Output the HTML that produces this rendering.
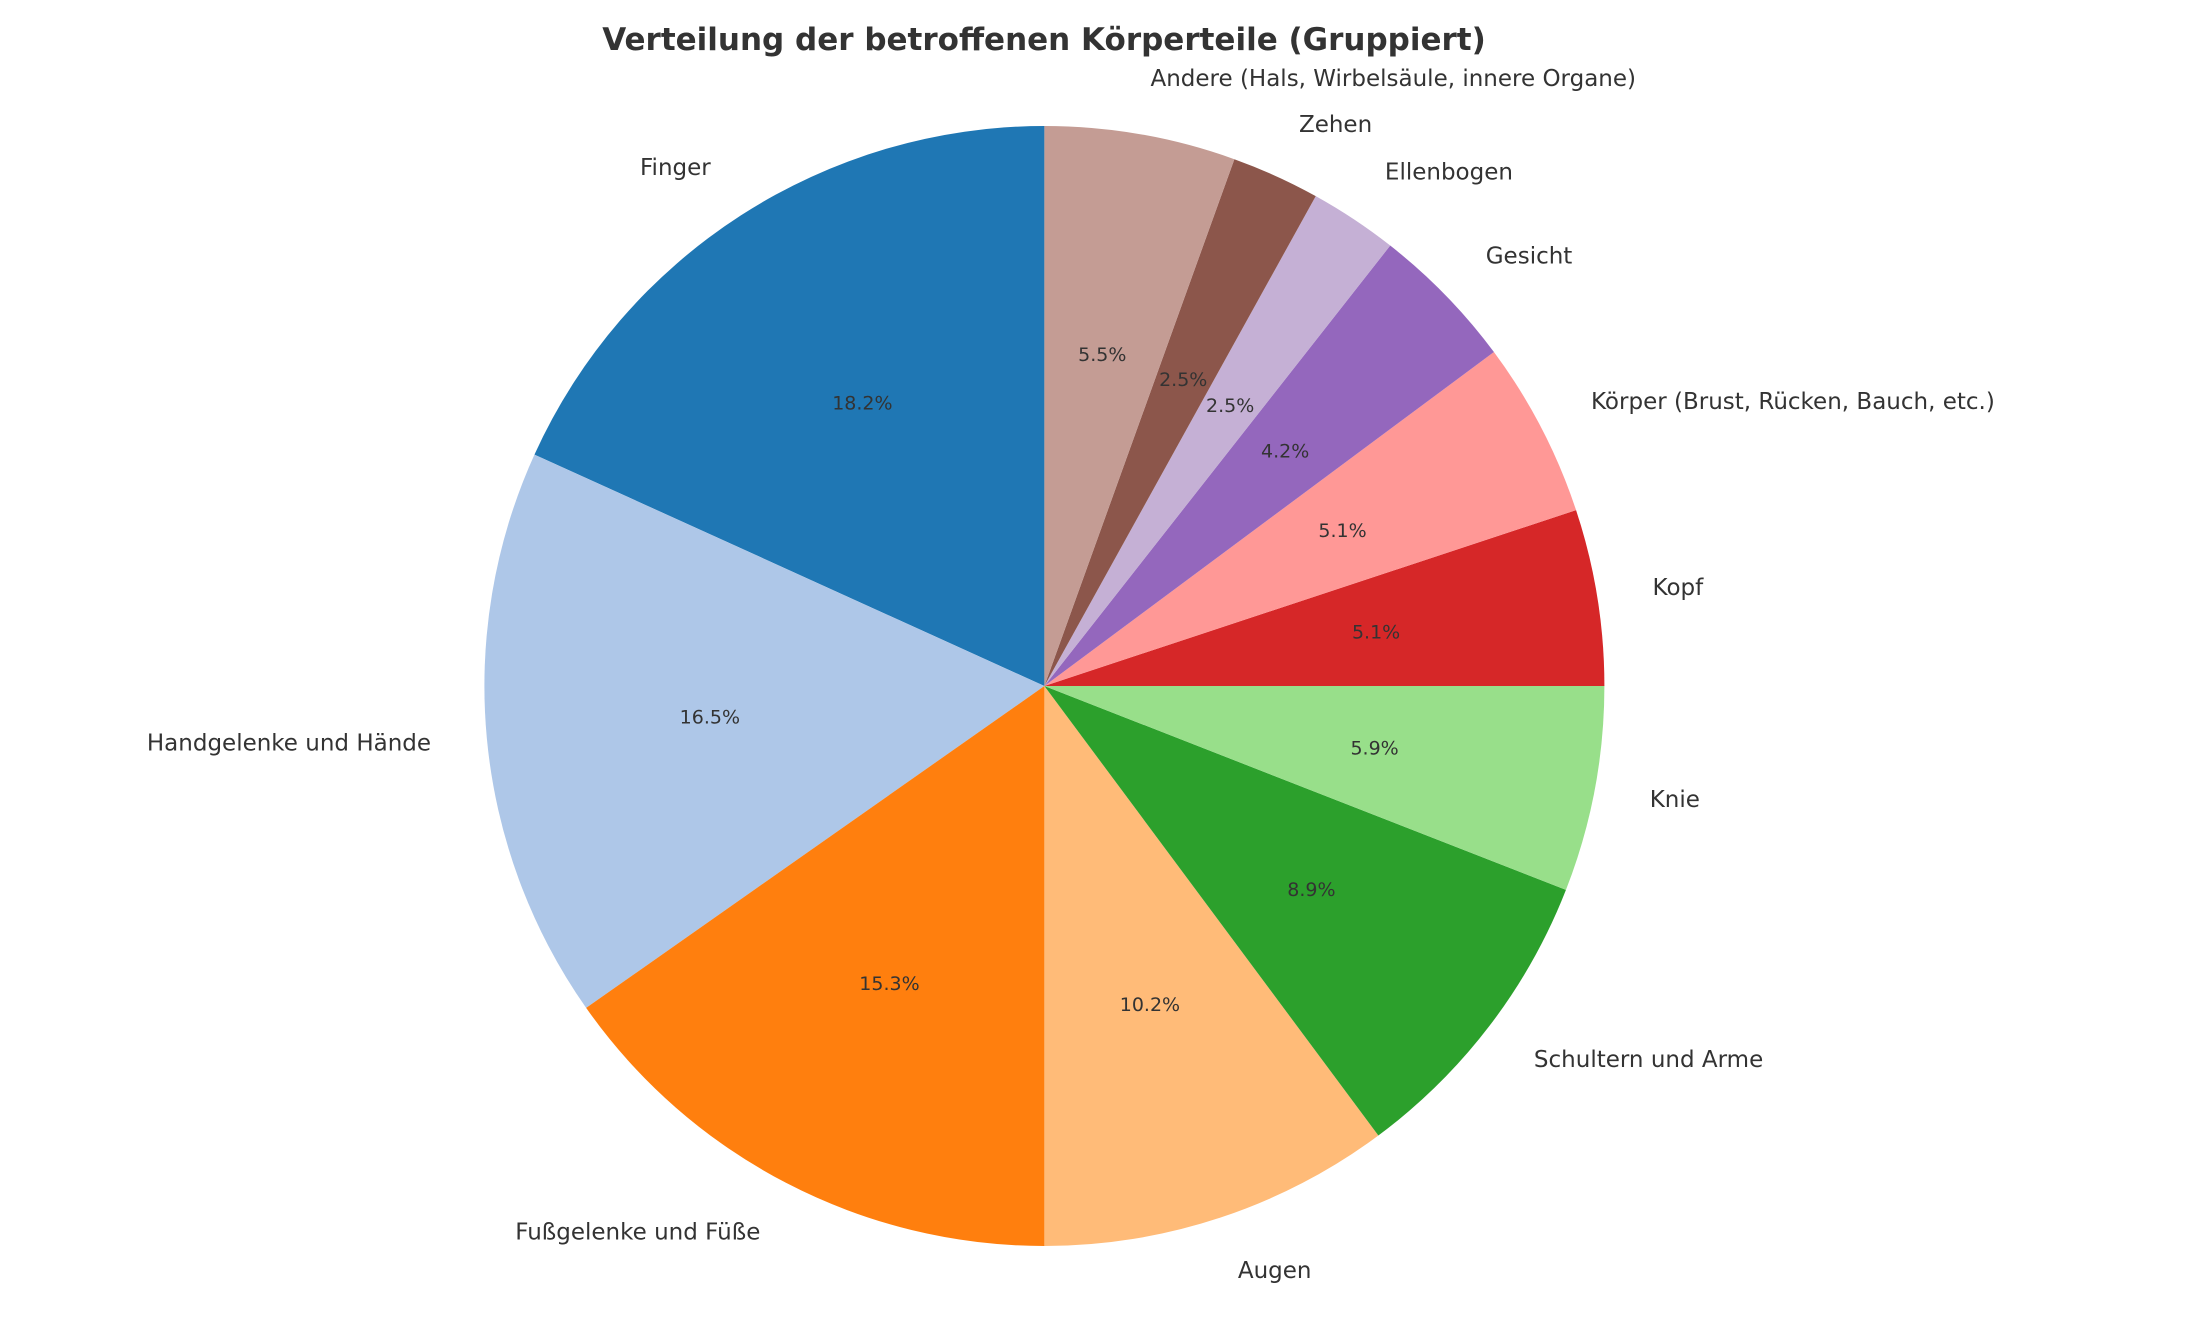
<!DOCTYPE html>
<html><head><meta charset="utf-8"><style>
body{margin:0;background:#fff;}
svg{display:block;font-family:"DejaVu Sans","Liberation Sans",sans-serif;}
</style></head><body>
<svg id="chart" width="2195" height="1323" viewBox="0 0 2195 1323">
<rect width="2195" height="1323" fill="#fff"/>
<text x="1044" y="50" text-anchor="middle" font-size="31" font-weight="bold" fill="#333">Verteilung der betroffenen Körperteile (Gruppiert)</text>
<g id="slices"></g>
<g id="labels"></g>
</svg>
<script>
const categories = ["Finger","Handgelenke und Hände","Fußgelenke und Füße","Augen","Schultern und Arme","Knie","Kopf","Körper (Brust, Rücken, Bauch, etc.)","Gesicht","Ellenbogen","Zehen","Andere (Hals, Wirbelsäule, innere Organe)"];
const values = [43,39,36,24,21,14,12,12,10,6,6,13];
const colors = ["#1f77b4","#aec7e8","#ff7f0e","#ffbb78","#2ca02c","#98df8a","#d62728","#ff9896","#9467bd","#c5b0d5","#8c564b","#c49c94"];
const NS="http://www.w3.org/2000/svg";
const cx=1044.4, cy=686, R=560;
const total=values.reduce((a,b)=>a+b,0);
const gS=document.getElementById('slices'), gL=document.getElementById('labels');
function pt(deg,r){const a=deg*Math.PI/180;return [cx+r*Math.cos(a), cy-r*Math.sin(a)];}
let start=90;
values.forEach((v,i)=>{
  const sweep=v/total*360, end=start+sweep;
  const [x1,y1]=pt(start,R),[x2,y2]=pt(end,R);
  const p=document.createElementNS(NS,'path');
  p.setAttribute('d',`M${cx},${cy} L${x1},${y1} A${R},${R} 0 ${sweep>180?1:0} 0 ${x2},${y2} Z`);
  p.setAttribute('fill',colors[i]);
  
  
  gS.appendChild(p);
  const mid=(start+end)/2;
  const [lx,ly]=pt(mid,R*1.1);
  const t=document.createElementNS(NS,'text');
  t.setAttribute('x',lx);t.setAttribute('y',ly);
  t.setAttribute('text-anchor',lx>=cx?'start':'end');
  t.setAttribute('dominant-baseline','central');
  t.setAttribute('font-size','23');t.setAttribute('fill','#333');
  t.textContent=categories[i];
  
  
  gL.appendChild(t);
  const [px,py]=pt(mid,R*0.6);
  const q=document.createElementNS(NS,'text');
  q.setAttribute('x',px);q.setAttribute('y',py);
  q.setAttribute('text-anchor','middle');
  q.setAttribute('dominant-baseline','central');
  q.setAttribute('font-size','19');q.setAttribute('fill','#333');
  q.textContent=(v/total*100).toFixed(1)+'%';
  
  
  gL.appendChild(q);
  start=end;
});
</script>
</body></html>
